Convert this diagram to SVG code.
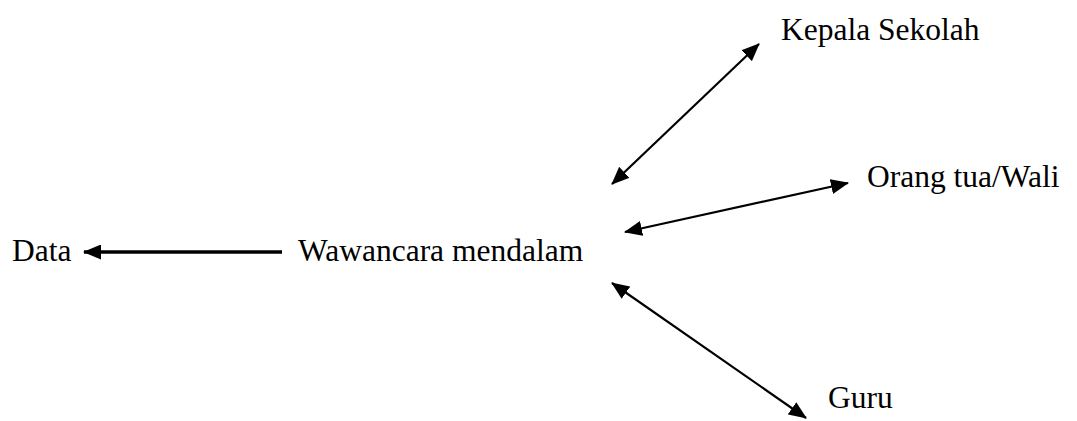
<svg xmlns="http://www.w3.org/2000/svg" width="1077" height="421" viewBox="0 0 1077 421">
  <defs>
    <marker id="head" markerUnits="userSpaceOnUse" markerWidth="18" markerHeight="15" refX="17" refY="7.5" orient="auto-start-reverse" viewBox="0 0 18 15">
      <path d="M0,0 L18,7.5 L0,15 Z" fill="#000"/>
    </marker>
  </defs>
  <style>
    .lbl { font-family: "Liberation Serif", "Times New Roman", serif; font-size: 31.5px; fill: #000; }
    .edge { stroke: #000; fill: none; }
    .thin { stroke-width: 2.2; }
    .thick { stroke-width: 3.6; }
  </style>
  <rect width="1077" height="421" fill="#fff"/>

  <g id="connectors">
    <line class="edge thick" x1="282" y1="252" x2="84" y2="252" marker-end="url(#head)"/>
    <line class="edge thin" x1="612" y1="184" x2="759" y2="44" marker-start="url(#head)" marker-end="url(#head)"/>
    <line class="edge thin" x1="625" y1="232" x2="848" y2="183" marker-start="url(#head)" marker-end="url(#head)"/>
    <line class="edge thin" x1="612" y1="283" x2="806" y2="418" marker-start="url(#head)" marker-end="url(#head)"/>
  </g>

  <g id="node-data"><text class="lbl" x="12" y="261">Data</text></g>
  <g id="node-wawancara"><text class="lbl" x="298" y="261">Wawancara mendalam</text></g>
  <g id="node-kepala"><text class="lbl" x="781" y="40">Kepala Sekolah</text></g>
  <g id="node-ortu"><text class="lbl" x="867" y="187">Orang tua/Wali</text></g>
  <g id="node-guru"><text class="lbl" x="828" y="408">Guru</text></g>
</svg>
